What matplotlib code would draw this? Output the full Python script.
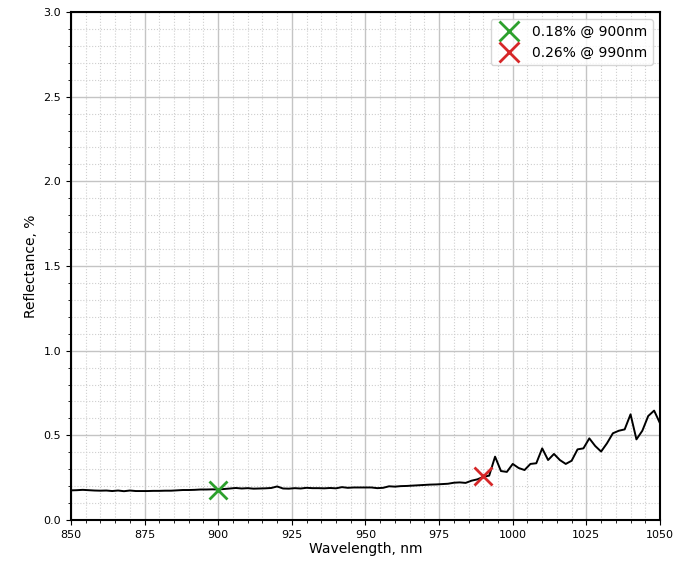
import numpy as np
import matplotlib
matplotlib.use("Agg")
from matplotlib import pyplot as plt
from matplotlib.ticker import MultipleLocator

# wavelength sampled every 2 nm
wavelength = np.arange(850, 1051, 2)
reflectance = [
    0.175, 0.176, 0.178, 0.176, 0.174, 0.173, 0.174, 0.171, 0.174, 0.170,
    0.174, 0.171, 0.171, 0.171, 0.172, 0.172, 0.173, 0.173, 0.175, 0.177,
    0.177, 0.178, 0.180, 0.180, 0.181, 0.180, 0.183, 0.186, 0.189, 0.186,
    0.188, 0.185, 0.186, 0.187, 0.189, 0.198, 0.186, 0.185, 0.188, 0.186,
    0.190, 0.188, 0.188, 0.187, 0.189, 0.187, 0.194, 0.190, 0.192, 0.192,
    0.192, 0.192, 0.188, 0.190, 0.199, 0.197, 0.200, 0.201, 0.203, 0.205,
    0.207, 0.209, 0.210, 0.212, 0.214, 0.220, 0.222, 0.219, 0.232, 0.240,
    0.255, 0.262, 0.374, 0.289, 0.284, 0.331, 0.307, 0.295, 0.331, 0.335,
    0.423, 0.354, 0.390, 0.354, 0.331, 0.350, 0.417, 0.423, 0.482, 0.437,
    0.404, 0.453, 0.512, 0.527, 0.535, 0.624, 0.476, 0.527, 0.614, 0.646,
    0.571,
]

mark_wl = [900, 990]
mark_val = [0.18, 0.26]
mark_colors = ['#2ca02c', '#d62728']

fig = plt.figure(figsize=(6.87, 5.63), dpi=100)
ax = fig.add_axes([0.1033, 0.0764, 0.8574, 0.9023])

ax.plot(wavelength, reflectance, color='black', lw=1.4)
for wl, v, c in zip(mark_wl, mark_val, mark_colors):
    ax.plot(wl, v, 'x', color=c, ms=13, mew=2, ls='none',
            label='%.2f%% @ %dnm' % (v, wl))

ax.set_xlim(850, 1050)
ax.set_ylim(0, 3.0)
ax.xaxis.set_major_locator(MultipleLocator(25))
ax.xaxis.set_minor_locator(MultipleLocator(5))
ax.yaxis.set_major_locator(MultipleLocator(0.5))
ax.yaxis.set_minor_locator(MultipleLocator(0.1))
ax.grid(which='major', color='#c4c4c4', lw=1.0)
ax.grid(which='minor', color='#cfcfcf', lw=0.8, ls=':')
ax.tick_params(labelsize=8)
for s in ax.spines.values():
    s.set_linewidth(1.5)

ax.set_xlabel('Wavelength, nm', fontsize=10, labelpad=2)
ax.set_ylabel('Reflectance, %', fontsize=10)
ax.legend(loc='upper right', fontsize=10, markerscale=1.15,
          handlelength=1.8, labelspacing=0.5)

fig.savefig('out.png', dpi=100)
